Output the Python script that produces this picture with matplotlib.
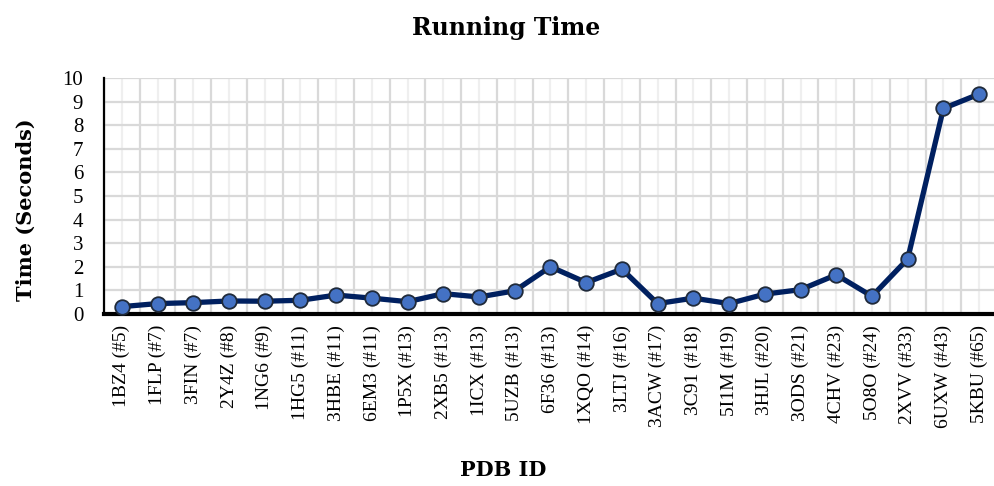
import numpy as np
import matplotlib
matplotlib.use("Agg")
import matplotlib.pyplot as plt
from matplotlib.ticker import MultipleLocator, FixedLocator

pdb_ids = ["1BZ4 (#5)", "1FLP (#7)", "3FIN (#7)", "2Y4Z (#8)", "1NG6 (#9)",
           "1HG5 (#11)", "3HBE (#11)", "6EM3 (#11)", "1P5X (#13)", "2XB5 (#13)",
           "1ICX (#13)", "5UZB (#13)", "6F36 (#13)", "1XQO (#14)", "3LTJ (#16)",
           "3ACW (#17)", "3C91 (#18)", "5I1M (#19)", "3HJL (#20)", "3ODS (#21)",
           "4CHV (#23)", "5O8O (#24)", "2XVV (#33)", "6UXW (#43)", "5KBU (#65)"]
run_time = [0.31, 0.44, 0.48, 0.55, 0.54,
            0.58, 0.80, 0.67, 0.52, 0.86,
            0.72, 0.98, 2.00, 1.33, 1.90,
            0.44, 0.67, 0.44, 0.84, 1.03,
            1.66, 0.75, 2.33, 8.71, 9.32]

plt.rcParams['font.family'] = ['Liberation Serif', 'DejaVu Serif']
bold_font = ['DejaVu Serif']

fig = plt.figure(figsize=(9.95, 4.86), dpi=100)
ax = fig.add_axes([0.1045, 0.354, 0.8975, 0.4855])

x = np.arange(len(pdb_ids))
ax.plot(x, run_time, color="#002060", linewidth=3.8, marker="o", markersize=10.5,
        markerfacecolor="#4472C4", markeredgecolor="#1f2a3a", markeredgewidth=1.3,
        zorder=3, clip_on=False)

ax.set_xlim(-0.5, len(pdb_ids) - 0.5)
ax.set_ylim(0, 10)
ax.set_xticks(x)
ax.set_xticklabels(pdb_ids, rotation=90, fontsize=14)
ax.xaxis.set_minor_locator(FixedLocator(np.arange(-0.5, len(pdb_ids), 1.0)))
ax.yaxis.set_major_locator(MultipleLocator(1))
ax.tick_params(axis='both', which='both', length=0)
ax.tick_params(axis='y', labelsize=15, pad=15)
ax.tick_params(axis='x', pad=8)

ax.grid(True, axis='x', which='minor', color="#d9d9d9", linewidth=1.6)
ax.grid(True, axis='x', which='major', color="#efefef", linewidth=1.6)
ax.grid(True, axis='y', which='major', color="#d9d9d9", linewidth=1.6)
ax.set_axisbelow(True)

for s in ['top', 'right']:
    ax.spines[s].set_visible(False)
ax.spines['left'].set_linewidth(1.6)
ax.spines['bottom'].set_linewidth(3)

ax.set_ylabel("Time (Seconds)", fontsize=15, fontweight='bold', family=bold_font)
ax.yaxis.set_label_coords(-0.076, 0.44)
fig.text(0.506, 0.033, "PDB ID", ha='center', va='center', fontsize=15,
         fontweight='bold', family=bold_font)
fig.text(0.509, 0.943, "Running Time", ha='center', va='center', fontsize=17,
         fontweight='bold', family=bold_font)

fig.savefig("out.png", dpi=100)
